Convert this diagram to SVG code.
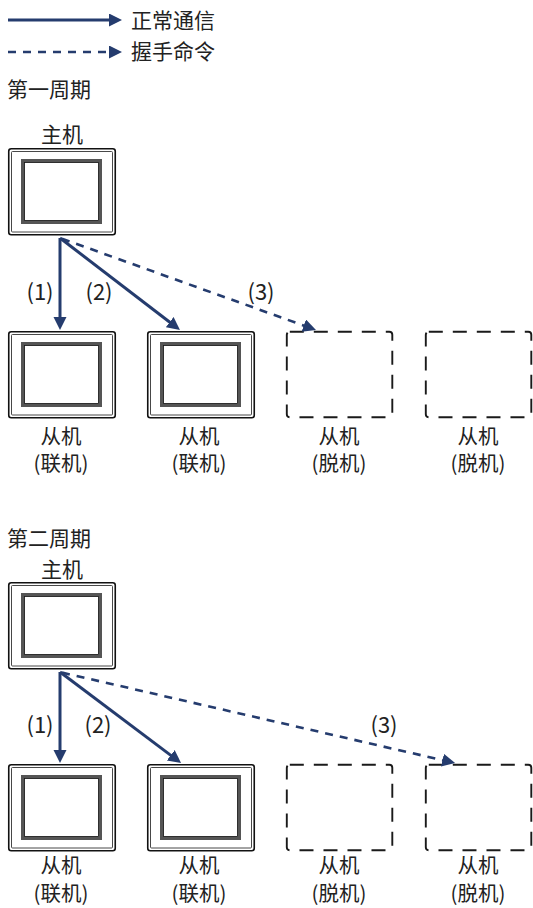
<svg xmlns="http://www.w3.org/2000/svg" xmlns:xlink="http://www.w3.org/1999/xlink" width="533" height="908" viewBox="0 0 533 908">
<style>
  text { font-family: "Noto Sans CJK SC", "Noto Sans", sans-serif; font-size: 21px; fill: #222; }
  .c { text-anchor: middle; }
  .n { font-size: 22px; }
  .s { font-size: 20.5px; }
  .solid { stroke: #253c6e; stroke-width: 3; fill: none; }
  .dash { stroke: #253c6e; stroke-width: 2.6; fill: none; stroke-dasharray: 8 7; }
  .off { fill: none; stroke: #1a1a1a; stroke-width: 1.9; stroke-dasharray: 14 10; }
</style>
<defs>
  <marker id="ah" markerUnits="userSpaceOnUse" markerWidth="14" markerHeight="14" refX="6" refY="6.5" orient="auto">
    <path d="M0,0 L13,6.5 L0,13 Z" fill="#253c6e"/>
  </marker>
  <g id="frame">
    <rect x="0.75" y="0.75" width="106.5" height="86" rx="2.5" fill="#fff" stroke="#111" stroke-width="1.6"/>
    <rect x="3.5" y="3.5" width="101" height="80.5" rx="1" fill="none" stroke="#333" stroke-width="0.9"/>
    <rect x="14.5" y="12.5" width="78" height="62" fill="#fff" stroke="#555" stroke-width="3"/>
    <rect x="16.5" y="14.5" width="74" height="58" fill="none" stroke="#1a1a1a" stroke-width="0.9"/>
  </g>
</defs>
<rect width="533" height="908" fill="#fff"/>

<g id="legend">
  <line class="solid" x1="8" y1="20" x2="115" y2="20" marker-end="url(#ah)"/>
  <text x="131" y="28">正常通信</text>
  <line class="dash" x1="8" y1="52" x2="115" y2="52" marker-end="url(#ah)"/>
  <text x="131" y="59">握手命令</text>
</g>

<text id="title1" x="7" y="97">第一周期</text>
<text id="title2" x="7" y="546">第二周期</text>

<!-- Period 1 -->
<g id="master1">
  <text class="c" x="62" y="141.5">主机</text>
  <use xlink:href="#frame" href="#frame" transform="translate(8,148)"/>
</g>
<g id="slave1a">
  <use xlink:href="#frame" href="#frame" transform="translate(8,331)"/>
  <text class="c s" x="61" y="443.5">从机</text>
  <text class="c s" x="61" y="471">(联机)</text>
</g>
<g id="slave1b">
  <use xlink:href="#frame" href="#frame" transform="translate(147,331)"/>
  <text class="c s" x="199" y="443.5">从机</text>
  <text class="c s" x="199" y="471">(联机)</text>
</g>
<g id="slave1c">
  <rect class="off" x="286.8" y="331.8" width="105.5" height="85.5" rx="3"/>
  <text class="c s" x="339" y="443.5">从机</text>
  <text class="c s" x="339" y="471">(脱机)</text>
</g>
<g id="slave1d">
  <rect class="off" x="425.8" y="331.8" width="105.5" height="85.5" rx="3"/>
  <text class="c s" x="478" y="443.5">从机</text>
  <text class="c s" x="478" y="471">(脱机)</text>
</g>

<!-- Period 2 -->
<g id="master2">
  <text class="c" x="62" y="576.5">主机</text>
  <use xlink:href="#frame" href="#frame" transform="translate(8,582)"/>
</g>
<g id="slave2a">
  <use xlink:href="#frame" href="#frame" transform="translate(8,764)"/>
  <text class="c s" x="61" y="873">从机</text>
  <text class="c s" x="61" y="900.5">(联机)</text>
</g>
<g id="slave2b">
  <use xlink:href="#frame" href="#frame" transform="translate(147,764)"/>
  <text class="c s" x="199" y="873">从机</text>
  <text class="c s" x="199" y="900.5">(联机)</text>
</g>
<g id="slave2c">
  <rect class="off" x="286.8" y="764.8" width="105.5" height="85.5" rx="3"/>
  <text class="c s" x="339" y="873">从机</text>
  <text class="c s" x="339" y="900.5">(脱机)</text>
</g>
<g id="slave2d">
  <rect class="off" x="425.8" y="764.8" width="105.5" height="85.5" rx="3"/>
  <text class="c s" x="478" y="873">从机</text>
  <text class="c s" x="478" y="900.5">(脱机)</text>
</g>

<g id="connectors">
  <line class="solid" x1="60" y1="238" x2="60" y2="323" marker-end="url(#ah)"/>
  <line class="solid" x1="60" y1="238" x2="174.4" y2="325.8" marker-end="url(#ah)"/>
  <line class="dash" x1="62" y1="238.7" x2="309.4" y2="327.6" marker-end="url(#ah)"/>
  <text x="40" y="300" class="c n">(1)</text>
  <text x="99" y="300" class="c n">(2)</text>
  <text x="261" y="300" class="c n">(3)</text>

  <line class="solid" x1="60" y1="672" x2="60" y2="756" marker-end="url(#ah)"/>
  <line class="solid" x1="60" y1="672" x2="175.5" y2="758.9" marker-end="url(#ah)"/>
  <line class="dash" x1="62" y1="672.6" x2="448.3" y2="761.5" marker-end="url(#ah)"/>
  <text x="40" y="733" class="c n">(1)</text>
  <text x="98" y="733" class="c n">(2)</text>
  <text x="384" y="733" class="c n">(3)</text>
</g>
</svg>
